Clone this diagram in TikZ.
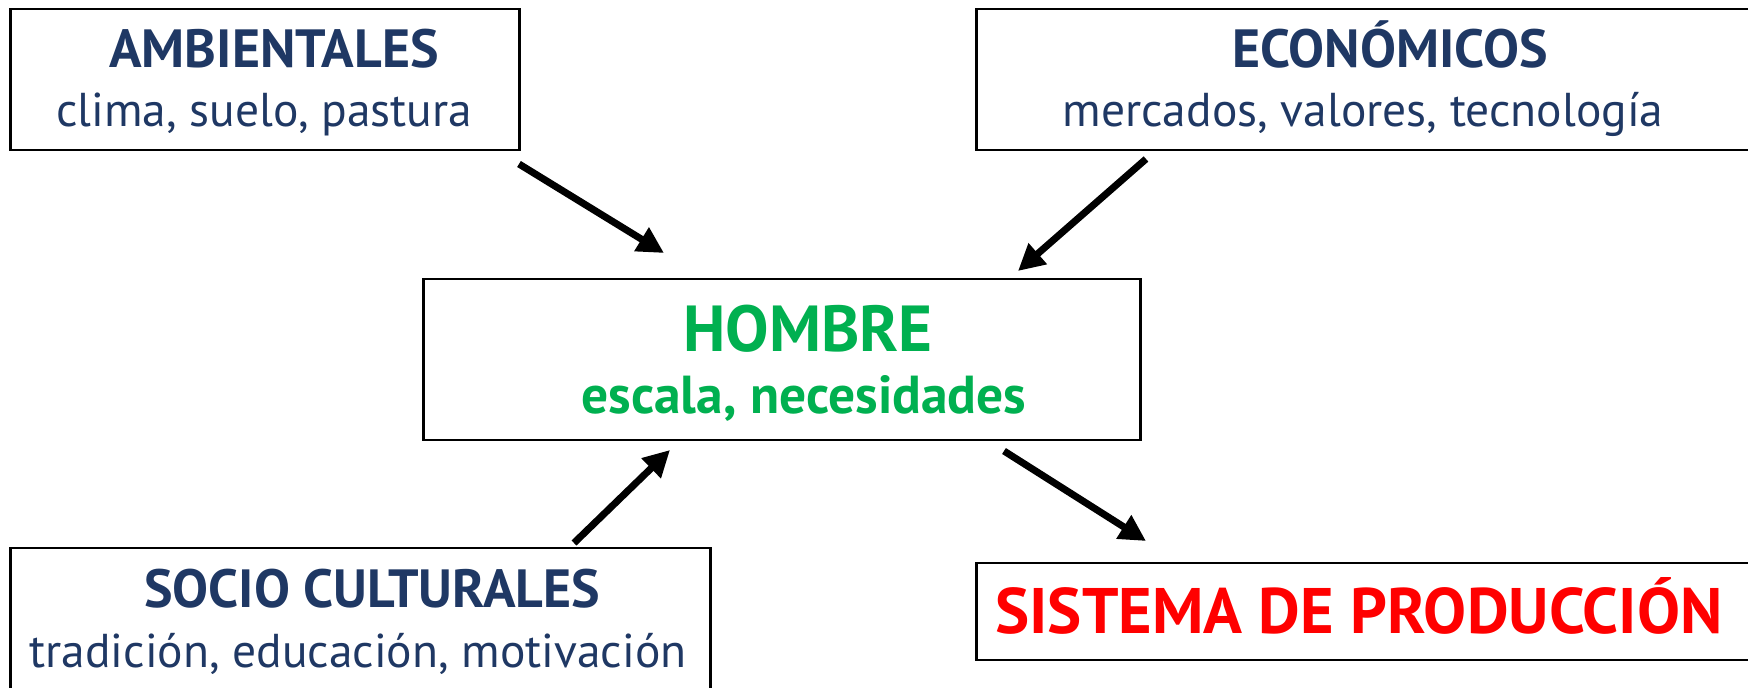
\documentclass[tikz,border=0pt]{standalone}
\usepackage{fontspec}
\setmainfont{PT Sans}
\usepackage{xcolor}
\usetikzlibrary{arrows.meta}

\definecolor{azul}{HTML}{1F3864}
\definecolor{verde}{HTML}{00B050}
\definecolor{rojo}{HTML}{FF0000}

\tikzset{
	caja/.style={draw,line width=0.8pt,inner sep=0pt},
	titulo/.style={anchor=base,text=azul,font=\bfseries\fontsize{15.3}{18}\selectfont},
	detalle/.style={anchor=base,text=azul,font=\fontsize{13.5}{16}\selectfont},
	flecha/.style={line width=2pt,-{Triangle[length=7.5pt,width=7.5pt]}}
}

\begin{document}
\begin{tikzpicture}[x=0.01cm,y=-0.01cm]
			\clip (0,0) rectangle (1748,688);
			\fill[white] (0,0) rectangle (1748,688);

			% cajas
			\node (amb) [caja,minimum width=5.08cm,minimum height=1.41cm] at (265,79.5) {};
			\node (eco) [caja,minimum width=7.80cm,minimum height=1.41cm] at (1367,79.5) {};
			\node (hom) [caja,minimum width=7.16cm,minimum height=1.61cm] at (782,359.5) {};
			\node (soc) [caja,minimum width=6.99cm,minimum height=1.60cm] at (360.5,628) {};
			\node (sis) [caja,minimum width=7.80cm,minimum height=0.97cm] at (1367,611.5) {};

			% textos
			\node (ambT) [titulo] at (274,68) {AMBIENTALES};
			\node (ambD) [detalle] at (264,127) {clima, suelo, pastura};
			\node (ecoT) [titulo] at (1390,68) {ECONÓMICOS};
			\node (ecoD) [detalle] at (1363,127) {mercados, valores, tecnología};
			\node (homT) [anchor=base,text=verde,font=\bfseries\fontsize{18.5}{22}\selectfont] at (808,351) {HOMBRE};
			\node (homD) [anchor=base,text=verde,font=\bfseries\fontsize{15.2}{18}\selectfont] at (804,413) {escala, necesidades};
			\node (socT) [titulo] at (372,607) {SOCIO CULTURALES};
			\node (socD) [detalle] at (358,667) {tradición, educación, motivación};
			\node (sisT) [anchor=base,text=rojo,font=\bfseries\fontsize{18.3}{22}\selectfont] at (1359,633) {SISTEMA DE PRODUCCIÓN};

			% flechas
			\coordinate (f1a) at (519,164);
			\coordinate (f1b) at (664,253);
			\coordinate (f2a) at (1146,159);
			\coordinate (f2b) at (1018,271);
			\coordinate (f3a) at (574,543);
			\coordinate (f3b) at (670,450);
			\coordinate (f4a) at (1004,451);
			\coordinate (f4b) at (1146,541);
			\draw[flecha] (f1a) -- (f1b);
			\draw[flecha] (f2a) -- (f2b);
			\draw[flecha] (f3a) -- (f3b);
			\draw[flecha] (f4a) -- (f4b);
		\end{tikzpicture}
\end{document}
